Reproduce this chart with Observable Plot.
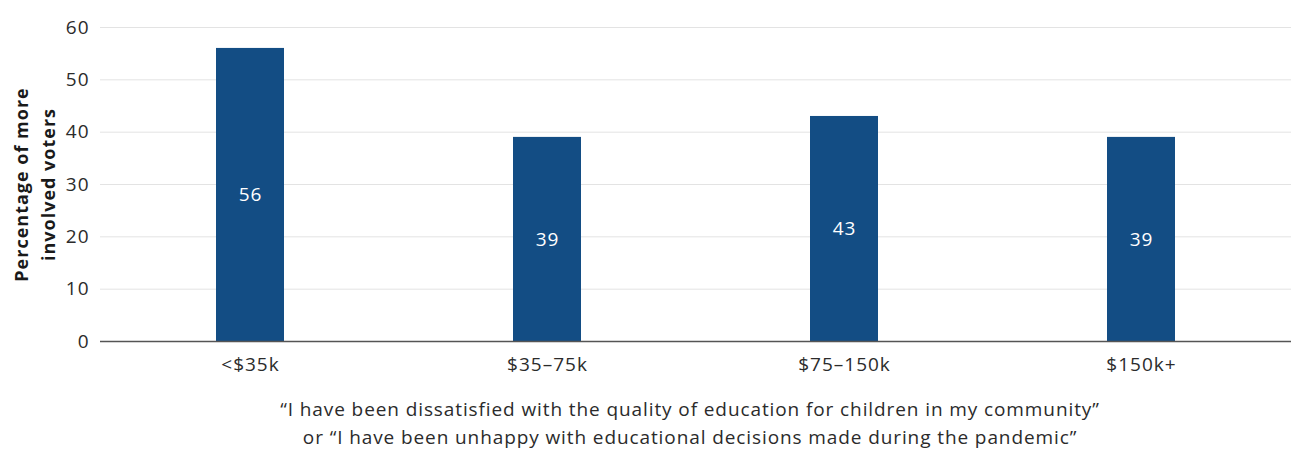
<!DOCTYPE html>
<html>
<head>
<meta charset="utf-8">
<script src="https://cdn.jsdelivr.net/npm/d3@7"></script>
<script src="https://cdn.jsdelivr.net/npm/@observablehq/plot@0.6"></script>
<style>
  html, body { margin: 0; padding: 0; background: #fff; }
  #chart { width: 1300px; font-family: "Open Sans", sans-serif; }
  .caption { width: 1300px; text-align: center; color: #2b2b2b; font-size: 19px; letter-spacing: 0.9px; line-height: 28px; font-family: "Open Sans", sans-serif; margin-top: 10px; box-sizing: border-box; padding-left: 80px; }
</style>
</head>
<body>
<div id="chart"></div>
<script>
const categories = ["<$35k", "$35\u201375k", "$75\u2013150k", "$150k+"];
const values = [56, 39, 43, 39];
const yTicks = [0, 10, 20, 30, 40, 50, 60];
const yLabel = "Percentage of more\ninvolved voters";
const captionLines = [
  "\u201cI have been dissatisfied with the quality of education for children in my community\u201d",
  "or \u201cI have been unhappy with educational decisions made during the pandemic\u201d"
];

const data = categories.map((c, i) => ({category: c, value: values[i]}));

const plot = Plot.plot({
  width: 1300,
  height: 385,
  marginTop: 27,
  marginBottom: 44,
  marginLeft: 100,
  marginRight: 9,
  style: {fontFamily: "'Open Sans', sans-serif", fontSize: "18px", color: "#2b2b2b", background: "#fff", letterSpacing: "1px"},
  x: {domain: categories, paddingInner: 0.77, paddingOuter: 0.385, label: null},
  y: {domain: [0, 60], ticks: yTicks, label: null},
  marks: [
    Plot.gridY(yTicks.filter(t => t > 0), {stroke: "#e3e3e3", strokeOpacity: 1, strokeWidth: 1}),
    Plot.barY(data, {x: "category", y: "value", fill: "#134d84"}),
    Plot.ruleY([0], {stroke: "#555", strokeWidth: 1.5}),
    Plot.text(data, {x: "category", y: d => d.value / 2, text: d => String(d.value), fill: "#fff", fontSize: 19}),
    Plot.axisX({tickSize: 0, tickPadding: 16, fontSize: 19, fill: "#2b2b2b", label: null}),
    Plot.axisY({ticks: yTicks, tickSize: 0, tickPadding: 11, fontSize: 19, fill: "#2b2b2b", label: null}),
    Plot.text([yLabel], {frameAnchor: "left", textAnchor: "middle", rotate: -90, dx: -68, fontWeight: "bold", fontSize: 18, fill: "#1a1a1a", lineHeight: 1.5, lineAnchor: "middle", ariaLabel: "y-label"})
  ]
});
d3.select(plot).selectAll('g[aria-label="y-label"]').style("letter-spacing", "1.6px");
document.getElementById("chart").appendChild(plot);
const cap = document.createElement("div");
cap.className = "caption";
cap.innerHTML = captionLines.map(l => `<div>${l.replace(/</g, "&lt;")}</div>`).join("");
document.body.appendChild(cap);
</script>
</body>
</html>
